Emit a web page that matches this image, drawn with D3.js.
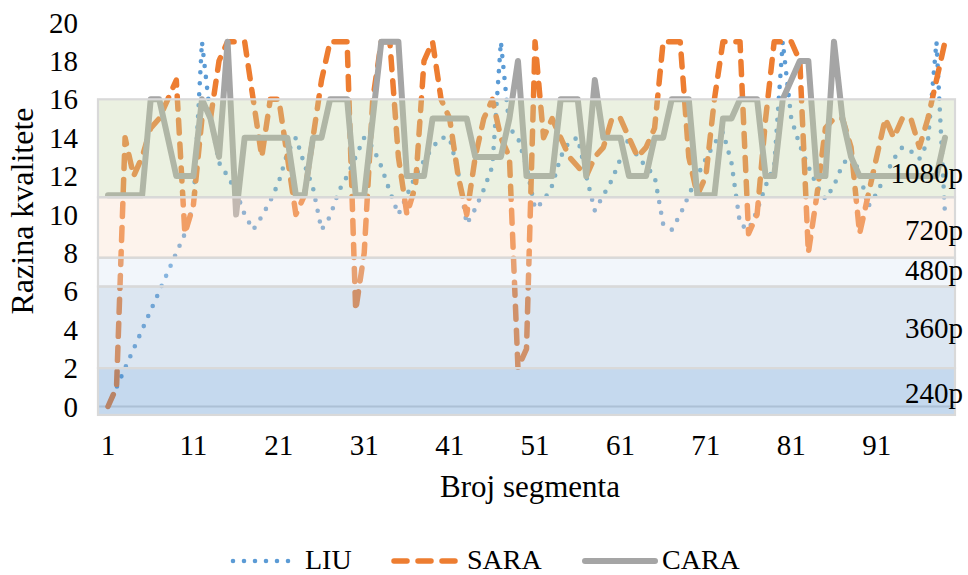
<!DOCTYPE html>
<html>
<head>
<meta charset="utf-8">
<script src="https://cdn.jsdelivr.net/npm/d3@7/dist/d3.min.js"></script>
<style>
    body { margin: 0; background: #fff; }
</style>
</head>
<body>
<svg id="chart" width="968" height="575"></svg>
<script>

// Series values, one per segment (1..99)
const seriesNames = ["LIU", "SARA", "CARA"];

const liu = [0, 1, 2, 3, 4, 5, 6, 7, 8, 9,
    10.5, 19, 15, 12.7, 12, 11.2, 10, 9.2, 9.9, 10.7,
    11.7, 13.2, 14, 12.6, 11.4, 9.2, 9.9, 11.2, 12, 13,
    14, 13.5, 12.5, 11.2, 10, 11, 12, 12.8, 13.5, 14,
    14, 12.2, 9.5, 10.3, 11.3, 12.5, 19, 14.5, 14, 12.5,
    10.3, 10.7, 11.5, 13, 13.8, 14, 12, 10.2, 11, 11.8,
    12.9, 14, 13, 12.5, 12, 9.5, 9.2, 10, 11, 12,
    12.9, 13.7, 14.3, 12.7, 9.5, 9.2, 10.2, 11.5, 12.5, 19,
    15, 13.6, 12.5, 11.5, 10.8, 11.5, 12.6, 13.1, 12.2, 10.4,
    11.1, 12, 12.9, 13.5, 13.3, 12.9, 13.8, 19, 10];

const sara = [0, 1, 14, 12, 13, 14.5, 15, 16, 17, 9,
    10.5, 15, 15, 18, 19, 19, 19, 16, 13, 16,
    16, 13, 10, 11, 14, 17, 19, 19, 19, 5,
    8, 16, 19, 19, 13, 10, 11.5, 18, 19, 16,
    15, 12, 10, 13, 15, 16, 14, 13, 2, 3,
    19, 14, 15, 14, 13, 12.5, 12, 13, 13.5, 15,
    15, 14, 13, 13.5, 14.5, 19, 19, 19, 13, 11,
    12, 16, 19, 19, 19, 9, 10, 15, 19, 19,
    19, 18, 8, 11, 14.5, 15, 15, 13.5, 9, 11,
    13, 15, 14, 15, 15, 13.5, 15, 17, 19];

const cara = [11, 11, 11, 11, 11, 16, 16, 14, 12, 12,
    12, 16, 15, 13, 19, 10, 14, 14, 14, 14,
    14, 14, 11, 11, 14, 14, 16, 16, 16, 11,
    11, 15, 19, 19, 19, 12, 12, 12, 15, 15,
    15, 15, 15, 13, 13, 13, 13, 15, 18, 12,
    12, 12, 12, 16, 16, 16, 12, 17, 14, 14,
    14, 12, 12, 12, 14, 14, 16, 16, 16, 11,
    11, 11, 15, 15, 16, 16, 16, 12, 12, 16,
    17, 18, 18, 12, 12, 19, 15, 13, 12, 12,
    12, 12, 12, 12, 12, 12, 12, 12, 14];

// Quality bands (value ranges) and their labels
const bandLabels = ["240p", "360p", "480p", "720p", "1080p"];
const bandLow = [-0.44, 2, 6.25, 7.75, 10.9];
const bandHigh = [2, 6.25, 7.75, 10.9, 16];
const bandLabelAt = [0.18, 3.57, 6.59, 8.67, 11.64];

// Axis ticks
const yTicks = [0, 2, 4, 6, 8, 10, 12, 14, 16, 18, 20];
const xTicks = [1, 11, 21, 31, 41, 51, 61, 71, 81, 91];


const font = "'Liberation Serif', 'DejaVu Serif', 'Times New Roman', serif";
const svg = d3.select("#chart");

const x = d3.scaleLinear().domain([1, 99]).range([108, 945]);
const y = d3.scaleLinear().domain([0, 20]).range([406.5, 22.5]);

const plotLeft = x(1) - 10;
const plotRight = x(99) + 10;

// x axis line (sits under the bands)
svg.append("line")
    .attr("x1", plotLeft).attr("x2", plotRight)
    .attr("y1", y(0)).attr("y2", y(0))
    .attr("stroke", "#d9d9d9")
    .attr("stroke-width", 2);

// Lines
const line = d3.line()
    .x((d, i) => x(i + 1))
    .y(d => y(d));

const styles = [
    {color: "#5b9bd5", width: 4.6, dash: "0 11", cap: "round"},
    {color: "#ed7d31", width: 5.5, dash: "13 11", cap: "round"},
    {color: "#a5a5a5", width: 6, dash: null, cap: "round"}
];

[liu, sara, cara].forEach((values, k) => {
    svg.append("path")
        .datum(values)
        .attr("fill", "none")
        .attr("stroke", styles[k].color)
        .attr("stroke-width", styles[k].width)
        .attr("stroke-dasharray", styles[k].dash)
        .attr("stroke-linecap", styles[k].cap)
        .attr("stroke-linejoin", "round")
        .attr("d", line);
});

// Bands are drawn over the lines, half see-through
const bandFills = ["#5992ce", "#9bb8d7", "#dae5f4", "#f9ddc9", "#c5d6a8"];

svg.selectAll(".band")
    .data(bandLabels)
    .enter()
    .append("rect")
    .attr("class", "band")
    .attr("x", plotLeft)
    .attr("width", plotRight - plotLeft)
    .attr("y", (d, i) => y(bandHigh[i]))
    .attr("height", (d, i) => y(bandLow[i]) - y(bandHigh[i]))
    .attr("fill", (d, i) => bandFills[i])
    .attr("fill-opacity", 0.35)
    .attr("stroke", "#d9d9d9")
    .attr("stroke-width", 2.2);

svg.selectAll(".band-label")
    .data(bandLabels)
    .enter()
    .append("text")
    .attr("class", "band-label")
    .attr("x", plotRight + 8)
    .attr("y", (d, i) => y(bandLabelAt[i]))
    .attr("text-anchor", "end")
    .attr("font-family", font)
    .attr("font-size", 29)
    .text(d => d);

// Y tick labels
svg.selectAll(".ytick")
    .data(yTicks)
    .enter()
    .append("text")
    .attr("class", "ytick")
    .attr("x", 78)
    .attr("y", d => y(d) + 10)
    .attr("text-anchor", "end")
    .attr("font-family", font)
    .attr("font-size", 29)
    .text(d => d);

// X tick labels
svg.selectAll(".xtick")
    .data(xTicks)
    .enter()
    .append("text")
    .attr("class", "xtick")
    .attr("x", d => x(d))
    .attr("y", 455)
    .attr("text-anchor", "middle")
    .attr("font-family", font)
    .attr("font-size", 29)
    .text(d => d);

// Axis titles
svg.append("text")
    .attr("x", 530)
    .attr("y", 497)
    .attr("text-anchor", "middle")
    .attr("font-family", font)
    .attr("font-size", 31)
    .text("Broj segmenta");

svg.append("text")
    .attr("transform", "translate(33,211) rotate(-90)")
    .attr("text-anchor", "middle")
    .attr("font-family", font)
    .attr("font-size", 32)
    .text("Razina kvalitete");

// Legend
const legendX = [233, 394, 585];
const legendW = [65, 66, 70];

seriesNames.forEach((name, k) => {
    svg.append("line")
        .attr("x1", legendX[k]).attr("x2", legendX[k] + legendW[k])
        .attr("y1", 561).attr("y2", 561)
        .attr("stroke", styles[k].color)
        .attr("stroke-width", styles[k].width)
        .attr("stroke-dasharray", styles[k].dash)
        .attr("stroke-linecap", styles[k].cap);
    svg.append("text")
        .attr("x", legendX[k] + legendW[k] + 7)
        .attr("y", 569)
        .attr("font-family", font)
        .attr("font-size", 28)
        .text(name);
});

</script>
</body>
</html>
